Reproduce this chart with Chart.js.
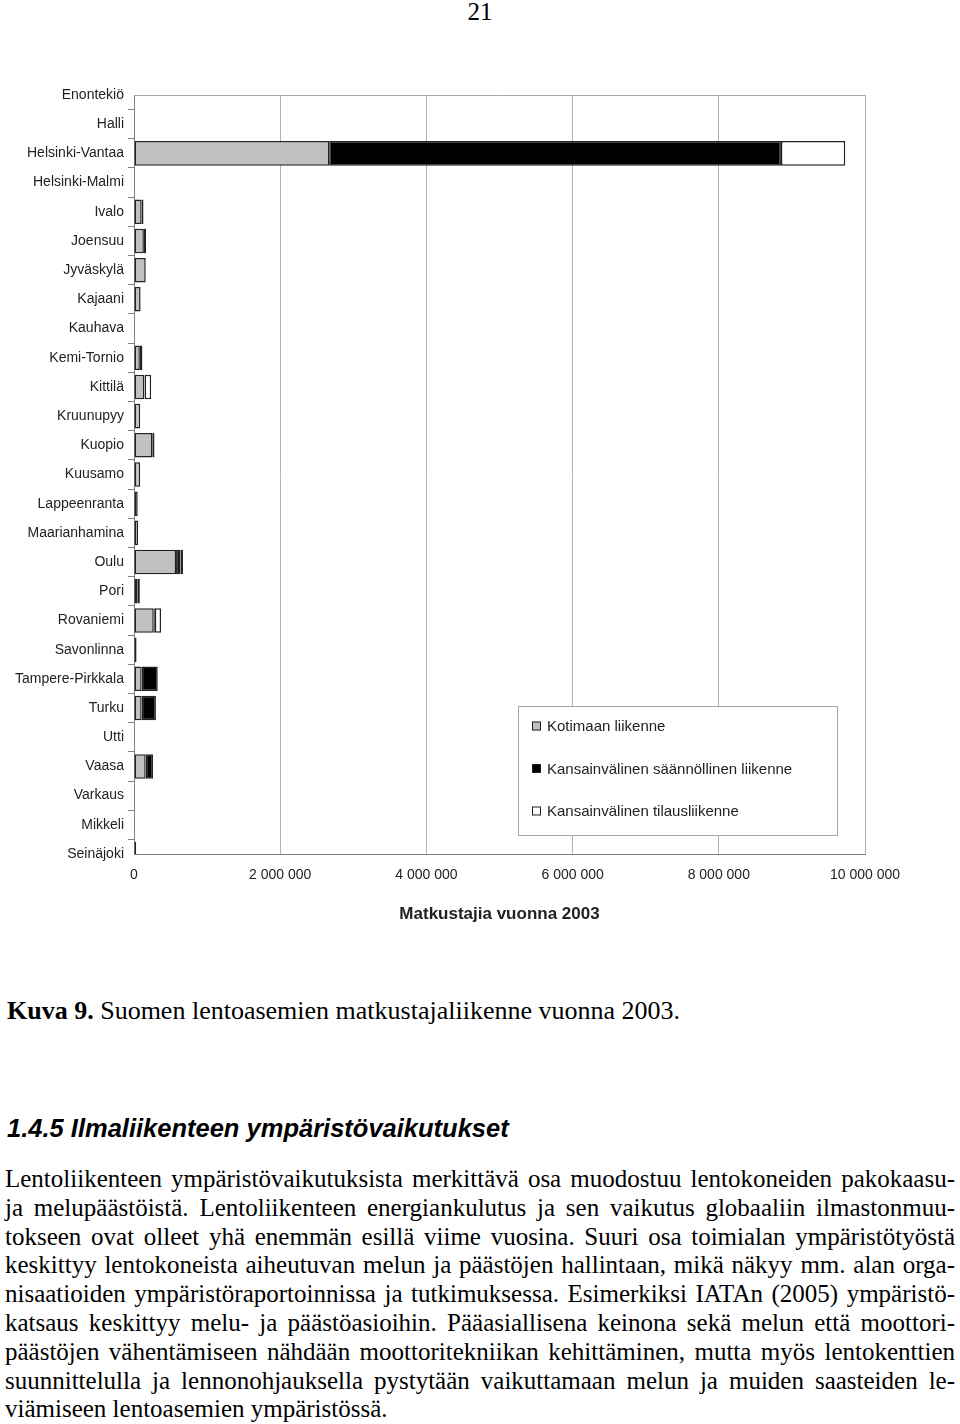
<!DOCTYPE html>
<html>
<head>
<meta charset="utf-8">
<script src="https://cdn.jsdelivr.net/npm/chart.js@4.4.1/dist/chart.umd.min.js"></script>
<style>
  html, body { margin: 0; padding: 0; background: #fff; }
  body { width: 960px; height: 1424px; position: relative; overflow: hidden; }
  #chart-wrap { position: absolute; left: 0; top: 0; width: 960px; height: 940px; }
  .serif { font-family: "Liberation Serif", "Times New Roman", serif; color: #000; }
  #page-no { position: absolute; left: 0; width: 960px; top: -1px; text-align: center; font-size: 25px; line-height: 26px; }
  #caption { position: absolute; left: 7px; top: 996px; font-size: 26px; line-height: 30px; white-space: nowrap; }
  #heading { position: absolute; left: 7px; top: 1112px; font-family: "Liberation Sans", Arial, sans-serif;
             font-weight: bold; font-style: italic; font-size: 25.5px; line-height: 32px; white-space: nowrap; }
  #body-text { position: absolute; left: 5px; top: 1165px; width: 950px; font-size: 25px; }
  #body-text div { height: 28.8px; line-height: 28.8px; text-align: justify; text-align-last: justify; white-space: nowrap; }
  #body-text div.last { text-align-last: left; }
</style>
</head>
<body>
<div id="page-no" class="serif">21</div>
<div id="chart-wrap"><canvas id="chart"></canvas></div>
<div id="caption" class="serif"><b>Kuva 9.</b> Suomen lentoasemien matkustajaliikenne vuonna 2003.</div>
<div id="heading">1.4.5 Ilmaliikenteen ympäristövaikutukset</div>
<div id="body-text" class="serif">
  <div>Lentoliikenteen ympäristövaikutuksista merkittävä osa muodostuu lentokoneiden pakokaasu-</div>
  <div>ja melupäästöistä. Lentoliikenteen energiankulutus ja sen vaikutus globaaliin ilmastonmuu-</div>
  <div>tokseen ovat olleet yhä enemmän esillä viime vuosina. Suuri osa toimialan ympäristötyöstä</div>
  <div>keskittyy lentokoneista aiheutuvan melun ja päästöjen hallintaan, mikä näkyy mm. alan orga-</div>
  <div>nisaatioiden ympäristöraportoinnissa ja tutkimuksessa. Esimerkiksi IATAn (2005) ympäristö-</div>
  <div>katsaus keskittyy melu- ja päästöasioihin. Pääasiallisena keinona sekä melun että moottori-</div>
  <div>päästöjen vähentämiseen nähdään moottoritekniikan kehittäminen, mutta myös lentokenttien</div>
  <div>suunnittelulla ja lennonohjauksella pystytään vaikuttamaan melun ja muiden saasteiden le-</div>
  <div class="last">viämiseen lentoasemien ympäristössä.</div>
</div>

<script>
'use strict';

// ─── Data (passengers in 2003) ───────────────────────────────────────────────
const airports = [
  'Enontekiö', 'Halli', 'Helsinki-Vantaa', 'Helsinki-Malmi', 'Ivalo', 'Joensuu',
  'Jyväskylä', 'Kajaani', 'Kauhava', 'Kemi-Tornio', 'Kittilä', 'Kruunupyy',
  'Kuopio', 'Kuusamo', 'Lappeenranta', 'Maarianhamina', 'Oulu', 'Pori',
  'Rovaniemi', 'Savonlinna', 'Tampere-Pirkkala', 'Turku', 'Utti', 'Vaasa',
  'Varkaus', 'Mikkeli', 'Seinäjoki',
];

const seriesNames = [
  'Kotimaan liikenne',
  'Kansainvälinen säännöllinen liikenne',
  'Kansainvälinen tilausliikenne',
];

const domestic = [
  0, 0, 2670000, 0, 105000, 135000,
  160000, 90000, 0, 80000, 140000, 85000,
  250000, 85000, 50000, 55000, 575000, 45000,
  270000, 35000, 105000, 105000, 0, 160000,
  0, 0, 30000,
];

const scheduledIntl = [
  0, 0, 6180000, 0, 25000, 30000,
  5000, 0, 0, 35000, 5000, 0,
  30000, 0, 5000, 0, 60000, 35000,
  15000, 0, 220000, 195000, 0, 100000,
  0, 0, 0,
];

const charterIntl = [
  0, 0, 880000, 0, 0, 0,
  0, 0, 0, 0, 90000, 0,
  0, 0, 0, 0, 35000, 0,
  85000, 0, 0, 0, 0, 0,
  0, 0, 0,
];

const xTicks = { min: 0, max: 10000000, step: 2000000 };
const axisTitle = 'Matkustajia vuonna 2003';

// ─── Style ────────────────────────────────────────────────────────────────────
const FILLS = ['#c0c0c0', '#000000', '#ffffff'];
const FONT = '"Liberation Sans", Arial, sans-serif';
Chart.defaults.font.family = FONT;
Chart.defaults.color = '#222';

const fmtThousands = v => String(v).replace(/\B(?=(\d{3})+(?!\d))/g, ' ');

// top edge of the plot frame (left/bottom are axis lines, right is the last grid line)
const frameTop = {
  id: 'frameTop',
  beforeDatasetsDraw(chart) {
    const { ctx, chartArea: a } = chart;
    ctx.save();
    ctx.strokeStyle = '#a6a6a6';
    ctx.lineWidth = 1;
    ctx.beginPath();
    ctx.moveTo(a.left, a.top + 0.5);
    ctx.lineTo(a.right, a.top + 0.5);
    ctx.stroke();
    ctx.restore();
  },
};

// boxed legend inside the plot area, like the original spreadsheet chart
const boxLegend = {
  id: 'boxLegend',
  afterDraw(chart) {
    const { ctx } = chart;
    const x = 518, y = 706, w = 319, h = 129;
    ctx.save();
    ctx.fillStyle = '#fff';
    ctx.fillRect(x, y, w, h);
    ctx.strokeStyle = '#a6a6a6';
    ctx.lineWidth = 1;
    ctx.strokeRect(x + 0.5, y + 0.5, w, h);
    ctx.font = '15px ' + FONT;
    ctx.textBaseline = 'middle';
    chart.data.datasets.forEach((ds, i) => {
      const cy = y + 20 + i * 42.5;
      ctx.fillStyle = ds.backgroundColor;
      ctx.fillRect(x + 14, cy - 4.5, 9, 9);
      ctx.strokeStyle = '#222';
      ctx.strokeRect(x + 14.5, cy - 4, 8, 8);
      ctx.fillStyle = '#222';
      ctx.fillText(ds.label, x + 29, cy + 1);
    });
    ctx.restore();
  },
};

const series = [domestic, scheduledIntl, charterIntl];

new Chart(document.getElementById('chart'), {
  type: 'bar',
  data: {
    labels: airports,
    datasets: series.map((data, i) => ({
      label: seriesNames[i],
      data,
      backgroundColor: FILLS[i],
      borderColor: '#222',
      borderWidth: 1.5,
      borderSkipped: false,
      barPercentage: 0.84,
      categoryPercentage: 1,
    })),
  },
  options: {
    indexAxis: 'y',
    responsive: true,
    maintainAspectRatio: false,
    devicePixelRatio: 1,
    animation: false,
    layout: { padding: { top: 95, right: 95, left: 0, bottom: 0 } },
    plugins: {
      legend: { display: false },
      tooltip: { enabled: false },
    },
    scales: {
      y: {
        stacked: true,
        offset: false,
        afterFit: s => { s.width = 134; },
        grid: { drawOnChartArea: false, drawTicks: true, tickLength: 6, tickColor: '#808080' },
        border: { display: true, color: '#808080', width: 1 },
        ticks: { autoSkip: false, padding: 4, font: { size: 14 }, color: '#222' },
      },
      x: {
        stacked: true,
        min: xTicks.min,
        max: xTicks.max,
        afterFit: s => { s.height = 86; },
        grid: { color: '#b3b3b3', lineWidth: 1, drawTicks: false },
        border: { display: true, color: '#808080', width: 1 },
        ticks: {
          stepSize: xTicks.step,
          padding: 13,
          font: { size: 14 },
          color: '#222',
          callback: v => fmtThousands(v),
        },
        title: {
          display: true,
          text: axisTitle,
          color: '#222',
          font: { size: 17, weight: 'bold' },
          padding: { top: 0, bottom: 15 },
        },
      },
    },
  },
  plugins: [frameTop, boxLegend],
});
</script>
</body>
</html>
